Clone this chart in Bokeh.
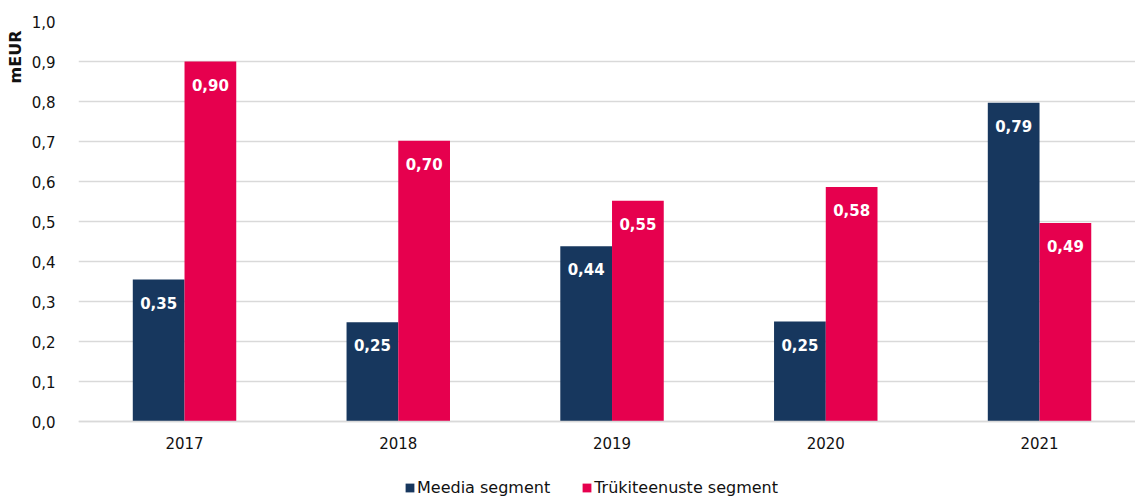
from bokeh.plotting import figure
from bokeh.models import (Range1d, FixedTicker, ColumnDataSource, Title,
                          Legend, LegendItem)
from bokeh.transform import dodge
from bokeh.core.properties import value
from bokeh.embed import file_html
from bokeh.resources import INLINE

years = ["2017", "2018", "2019", "2020", "2021"]
meedia = [0.355, 0.248, 0.438, 0.250, 0.797]
trukk = [0.900, 0.702, 0.552, 0.586, 0.496]
meedia_labels = ["0,35", "0,25", "0,44", "0,25", "0,79"]
trukk_labels = ["0,90", "0,70", "0,55", "0,58", "0,49"]
series_names = ["Meedia segment", "Trükiteenuste segment"]
y_ticks = [0.0, 0.1, 0.2, 0.3, 0.4, 0.5, 0.6, 0.7, 0.8, 0.9, 1.0]
y_tick_labels = ["0,0", "0,1", "0,2", "0,3", "0,4", "0,5", "0,6", "0,7", "0,8", "0,9", "1,0"]

NAVY = "#17375E"
RED = "#E6004E"

xpos = list(range(len(years)))
src = ColumnDataSource(dict(x=xpos, meedia=meedia, trukk=trukk,
                            ml=meedia_labels, tl=trukk_labels))

p = figure(width=1135, height=497, output_backend="svg", toolbar_location=None,
           x_range=Range1d(-0.496, 4.449), y_range=Range1d(-0.19, 1.0),
           min_border_left=78, min_border_right=0, min_border_top=21,
           min_border_bottom=0)
p.outline_line_color = None
p.background_fill_color = "white"
p.border_fill_color = "white"

off = 0.121
bw = 0.242
r1 = p.vbar(x=dodge("x", -off, range=p.x_range), top="meedia", width=bw,
            source=src, fill_color=NAVY, line_color=None)
r2 = p.vbar(x=dodge("x", off, range=p.x_range), top="trukk", width=bw,
            source=src, fill_color=RED, line_color=None)

p.text(x=dodge("x", -off, range=p.x_range), y="meedia", text="ml", source=src,
       text_color="white", text_font=value("DejaVu Sans"), text_font_style="bold",
       text_font_size="15px", text_align="center", text_baseline="middle",
       y_offset=23)
p.text(x=dodge("x", off, range=p.x_range), y="trukk", text="tl", source=src,
       text_color="white", text_font=value("DejaVu Sans"), text_font_style="bold",
       text_font_size="15px", text_align="center", text_baseline="middle",
       y_offset=23)

# axes
p.xaxis.fixed_location = 0
p.xaxis.ticker = FixedTicker(ticks=xpos)
p.xaxis.major_label_overrides = {i: y for i, y in zip(xpos, years)}
p.xaxis.major_tick_line_color = None
p.xaxis.minor_tick_line_color = None
p.xaxis.axis_line_color = "#D9D9D9"
p.xaxis.axis_line_width = 1.5
p.xaxis.major_label_text_font = "DejaVu Sans"
p.xaxis.major_label_text_font_size = "15px"
p.xaxis.major_label_text_color = "#111111"
p.xaxis.major_label_standoff = 9

p.yaxis.ticker = FixedTicker(ticks=y_ticks)
p.yaxis.major_label_overrides = {t: l for t, l in zip(y_ticks, y_tick_labels)}
p.yaxis.major_tick_line_color = None
p.yaxis.minor_tick_line_color = None
p.yaxis.axis_line_color = None
p.yaxis.major_label_text_font = "DejaVu Sans"
p.yaxis.major_label_text_font_size = "15px"
p.yaxis.major_label_text_color = "#111111"
p.yaxis.major_label_standoff = 17

p.xgrid.grid_line_color = None
p.ygrid.grid_line_color = "#D9D9D9"
p.ygrid.grid_line_width = 1.5

p.add_layout(Title(text="mEUR", align="right", offset=9, standoff=7,
                   text_font="DejaVu Sans", text_font_style="bold",
                   text_font_size="16px", text_color="#111111"), "left")

legend = Legend(items=[LegendItem(label=series_names[0], renderers=[r1]),
                       LegendItem(label=series_names[1], renderers=[r2])],
                orientation="horizontal", location=(326, 0),
                glyph_width=11, glyph_height=11, label_standoff=2, spacing=31,
                padding=0, margin=0, border_line_color=None,
                background_fill_alpha=0, label_text_font="DejaVu Sans",
                label_text_font_size="16px", label_text_color="#111111")
p.add_layout(legend, "center")

open("out.html", "w").write(file_html(p, INLINE))
